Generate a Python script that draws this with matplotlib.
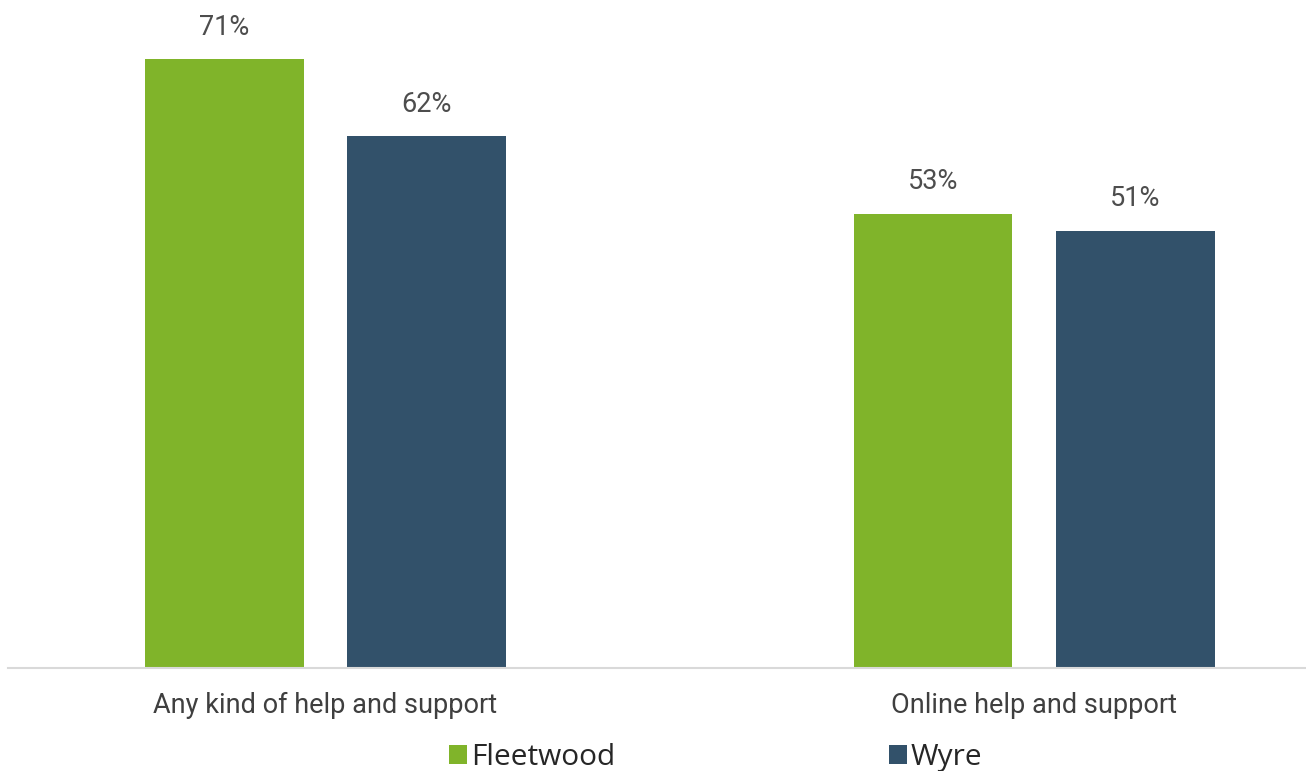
import matplotlib
matplotlib.use("Agg")
import matplotlib.pyplot as plt
import numpy as np

categories = ["Any kind of help and support", "Online help and support"]
series_names = ["Fleetwood", "Wyre"]
fleetwood = [71, 53]
wyre = [62, 51]

colors = ["#80b42a", "#32516a"]

plt.rcParams['font.family'] = ['Roboto', 'DejaVu Sans']

fig = plt.figure(figsize=(13.06, 7.71), dpi=100)
ax = fig.add_axes([8 / 1306, 103 / 771, 1 - 8 / 1306, 1 - 103 / 771])

x = np.arange(len(categories))
width = 0.223
offset = 0.1425

for vals, name, col, sign in zip([fleetwood, wyre], series_names, colors, [-1, 1]):
    bars = ax.bar(x + sign * offset, vals, width=width, color=col, label=name)
    for b, v in zip(bars, vals):
        ax.text(b.get_x() + b.get_width() / 2, v + 3.7, f"{v}%",
                ha='center', va='center', fontsize=19.5, color='#4d4d4d')

ax.set_xlim(-0.4478, 1.383)
ax.set_ylim(0, 77.9)
ax.set_xticks(x)
ax.set_xticklabels(categories, fontsize=19.5, color='#3f3f3f')
ax.tick_params(axis='x', length=0, pad=17)
ax.set_yticks([])
for s in ['top', 'right', 'left']:
    ax.spines[s].set_visible(False)
ax.spines['bottom'].set_color('#d9d9d9')
ax.spines['bottom'].set_linewidth(1.5)

leg = fig.legend(loc='center', bbox_to_anchor=(0.548, 0.017), ncol=2, frameon=False,
                 prop={'family': 'Open Sans', 'size': 21.5}, handlelength=0.6,
                 handleheight=0.6, handletextpad=0.15, columnspacing=9.15)
for t in leg.get_texts():
    t.set_color('#262626')

fig.savefig("out.png", dpi=100)
